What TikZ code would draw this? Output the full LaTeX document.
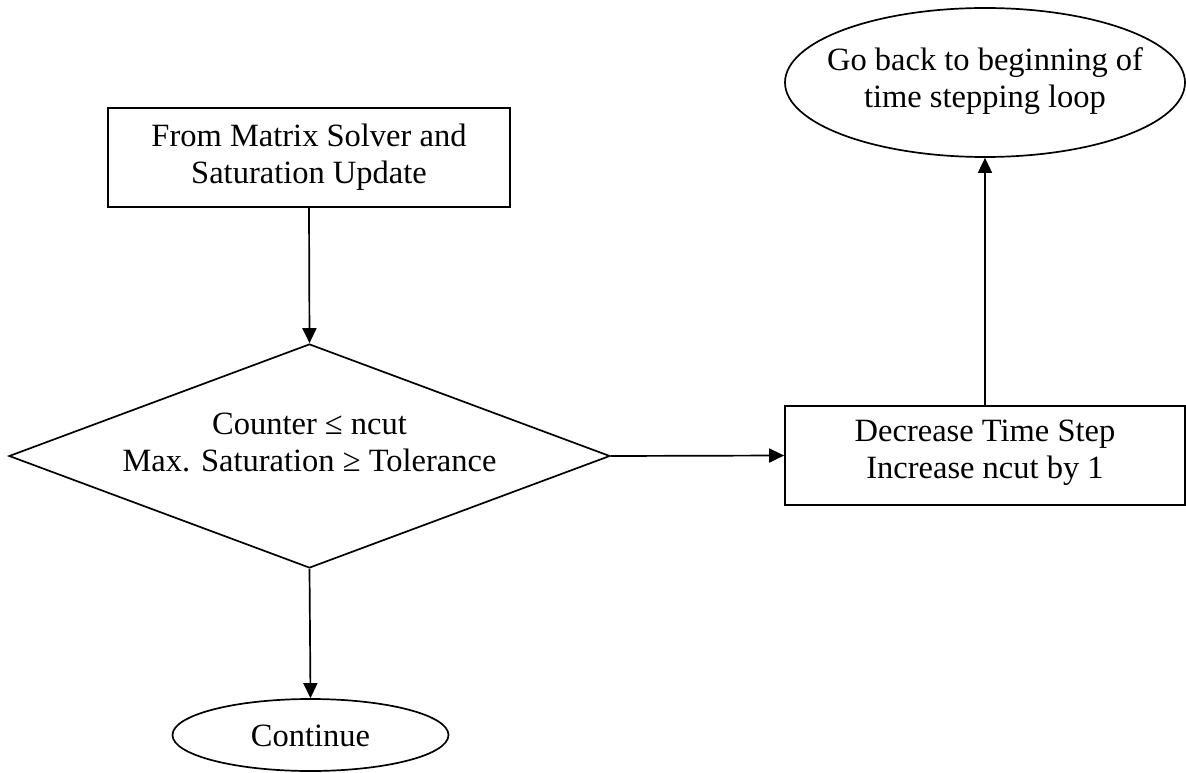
\documentclass[tikz,border=0pt]{standalone}
\usepackage{fontspec}
\setmainfont{Liberation Serif}
\usetikzlibrary{shapes.geometric,arrows.meta}
\begin{document}
\begin{tikzpicture}[x=1pt,y=-1pt,
  line width=1.7pt,
  txt/.style={align=center,font=\fontsize{32.5}{37}\selectfont,inner sep=0pt},
  procbox/.style={draw,rectangle,inner sep=0pt},
  oval/.style={draw,ellipse,inner sep=0pt},
  decision/.style={draw,diamond,inner sep=0pt},
  flow/.style={-{Triangle[length=15pt,width=14pt]}}]
\useasboundingbox (0,0) rectangle (1186,773);
% nodes
\node[procbox, minimum width=402pt, minimum height=99pt] (from) at (309,157.5) {};
\node[txt] (fromtext) at (from) {From Matrix Solver and\\Saturation Update};
\node[decision, minimum width=601pt, minimum height=224pt] (dec) at (309.5,456) {};
\node[txt] (dectext) at (309.5,442) {Counter ≤ ncut\\Max. Saturation ≥ Tolerance};
\node[procbox, minimum width=400pt, minimum height=99pt] (decbox) at (985,455.5) {};
\node[txt] (decboxtext) at (985,453) {Decrease Time Step\\Increase ncut by 1};
\node[oval, minimum width=400pt, minimum height=149pt] (goback) at (985,82.5) {};
\node[txt] (gobacktext) at (985,81) {Go back to beginning of\\time stepping loop};
\node[oval, minimum width=276pt, minimum height=72pt] (cont) at (310.5,735) {};
\node[txt] (conttext) at (310.5,736) {Continue};
% connectors
\draw[flow] (from.south) -- (dec.north);
\draw[flow] (dec.east) -- (decbox.west);
\draw[flow] (decbox.north) -- (goback.south);
\draw[flow] (dec.south) -- (cont.north);
\end{tikzpicture}
\end{document}
